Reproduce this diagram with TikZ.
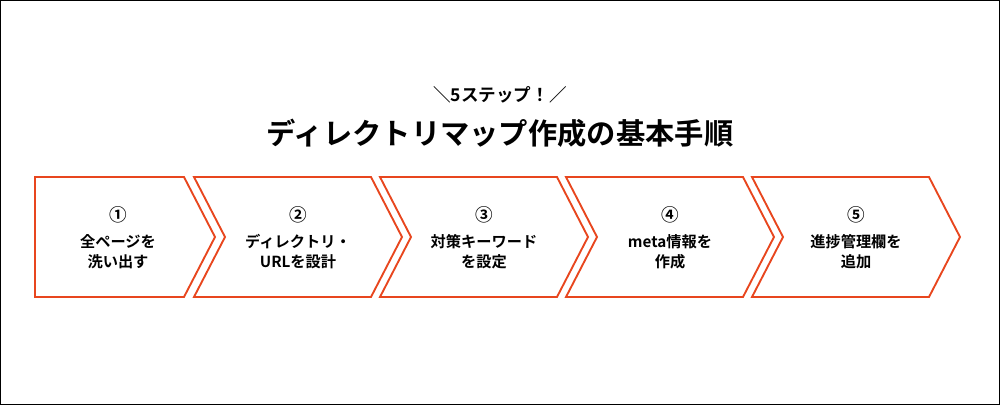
\documentclass[tikz,border=0pt]{standalone}
\usepackage{fontspec}
\setmainfont{Noto Sans CJK JP}[BoldFont={* Bold}]
\definecolor{stepred}{HTML}{E8461E}
\begin{document}
\begin{tikzpicture}[x=0.03cm,y=-0.03cm,
    chev/.style={draw=stepred,line width=1.6pt,fill=white,line join=miter},
    steplbl/.style={font=\bfseries\fontsize{13pt}{17pt}\selectfont,align=center,inner sep=0pt}]
  \draw[black,line width=0.6pt] (0.5,0.5) rectangle (999.5,404.5);
  \useasboundingbox (0,0) rectangle (1000,405);
  % titles
  \node[font=\bfseries\fontsize{15pt}{18pt}\selectfont] (sub) at (500,95) {＼5ステップ！／};
  \node[font=\bfseries\fontsize{25pt}{30pt}\selectfont] (title) at (500,133) {ディレクトリマップ作成の基本手順};
  % chevrons
  \draw[chev] (35,177) -- (184,177) -- (215,237) -- (184,297) -- (35,297) -- cycle;
  \foreach \x in {194,380,566,752}
    \draw[chev] (\x,177) -- (\x+177,177) -- (\x+208,237) -- (\x+177,297)
      -- (\x,297) -- (\x+31,237) -- cycle;
  % labels
  \foreach \cx/\n/\txt [count=\i] in {118/①/全ページを\\洗い出す,
      298/②/ディレクトリ・\\URLを設計, 484/③/対策キーワード\\を設定,
      670/④/meta情報を\\作成, 856/⑤/進捗管理欄を\\追加}{
    \node[steplbl,font=\bfseries\fontsize{15pt}{18pt}\selectfont] (num\i) at (\cx,215) {\n};
    \node[steplbl] (lbl\i) at (\cx,252) {\txt};
  }
\end{tikzpicture}
\end{document}
